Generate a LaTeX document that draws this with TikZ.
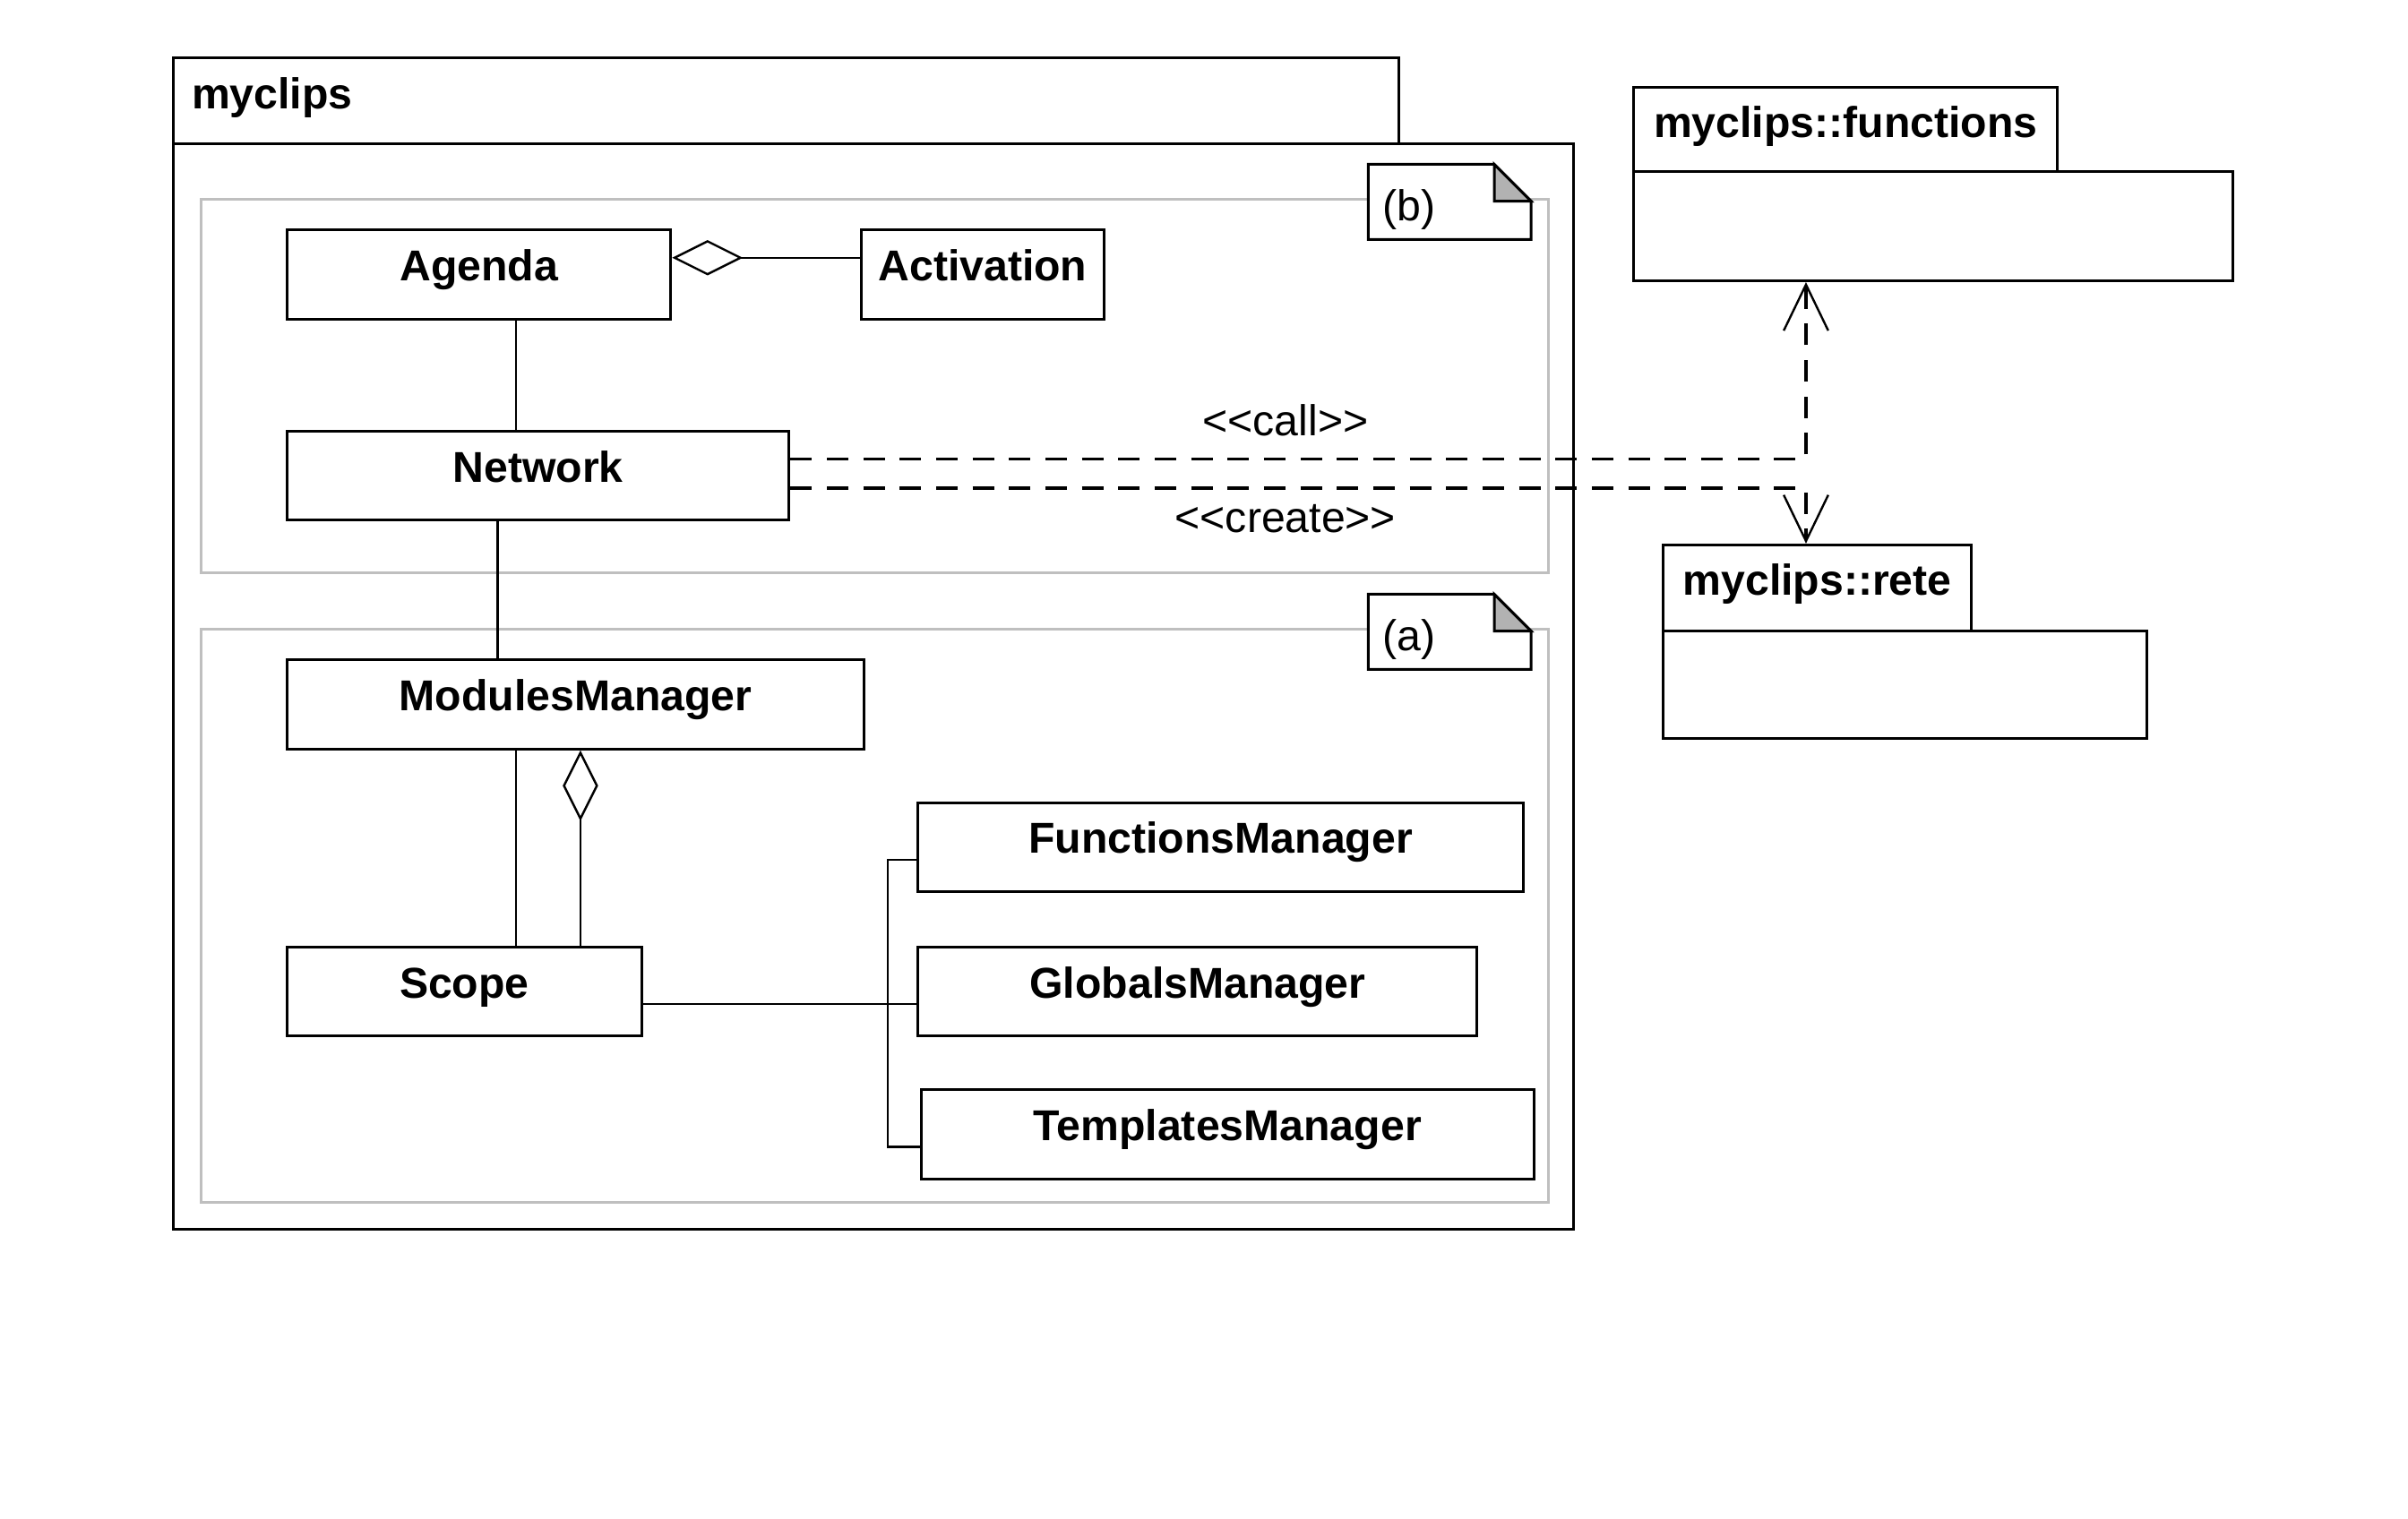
\documentclass[tikz,border=0pt]{standalone}
\usepackage{fontspec}
\setmainfont{Liberation Sans}
\usetikzlibrary{arrows.meta,calc}

\def\umlfont{\fontsize{16}{19}\selectfont}

\tikzset{
  classbox/.style={draw, line width=1pt, inner sep=0pt, anchor=north west,
    font=\umlfont\bfseries, text height=0.5cm, text depth=0.34cm,
    minimum height=1.16cm},
  pkgtab/.style={draw, line width=1pt, anchor=north west, align=left,
    inner ysep=0pt, font=\umlfont\bfseries, text height=0.5cm,
    text depth=0.3cm},
  pkgbody/.style={draw, line width=1pt, anchor=north west, inner sep=0pt},
  link/.style={line width=0.8pt},
  aggr/.style={link, {Diamond[open, length=0.92cm, width=0.46cm]}-},
  depend/.style={line width=1.1pt, dash pattern=on 8pt off 5.5pt,
    -{Straight Barb[length=0.6cm, width=0.58cm, line width=0.8pt]}},
  frame/.style={draw=black!25, line width=1pt},
  stereo/.style={font=\umlfont}
}

\begin{document}
\begin{tikzpicture}[x=0.02cm, y=-0.02cm]
    \useasboundingbox (0,0) rectangle (1568,989);

    % package myclips
    \node[pkgtab, text width=15.48cm, inner xsep=0.24cm, minimum height=1.12cm]
        (mytab) at (112,37) {myclips};
    \node[pkgbody, minimum width=18.24cm, minimum height=14.14cm]
        (mybody) at (112,93) {};

    \draw[frame] (131,130) rectangle (1008,373);
    \draw[frame] (131,410) rectangle (1008,783);

    \foreach \n/\x/\y/\lbl in {b/891/107/(b), a/891/387/(a)}{
        \draw[line width=1pt, fill=white] (\x,\y) -- ++(82,0) -- ++(24,24)
            -- ++(0,25) -- ++(-106,0) -- cycle;
        \fill[black!30] (\x+82,\y) -- ++(0,24) -- ++(24,0) -- cycle;
        \draw[line width=1pt] (\x+82,\y) -- ++(0,24) -- ++(24,0) -- cycle;
        \node[stereo, anchor=base west, inner sep=0pt] (note\n) at (\x+9,\y+37) {\lbl};
    }

    \node[classbox, minimum width=5cm] (agenda) at (186,149) {Agenda};
    \node[classbox, minimum width=3.16cm] (activation) at (560,149) {Activation};
    \node[classbox, minimum width=6.54cm] (network) at (186,280) {Network};
    \node[classbox, minimum width=7.52cm] (modmgr) at (186,429) {ModulesManager};
    \node[classbox, minimum width=4.62cm] (scope) at (186,616) {Scope};
    \node[classbox, minimum width=7.88cm] (funcmgr) at (597,522) {FunctionsManager};
    \node[classbox, minimum width=7.28cm] (globmgr) at (597,616) {GlobalsManager};
    \node[classbox, minimum width=7.98cm] (tplmgr) at (599,709) {TemplatesManager};

    \draw[aggr] ([yshift=0.22cm]agenda.east) -- ([yshift=0.22cm]activation.west);
    \draw[link] ([xshift=3cm]agenda.south west) -- ([xshift=3cm]network.north west);
    \draw[link] ([xshift=2.76cm]network.south west) -- ([xshift=2.76cm]modmgr.north west);
    \draw[link] ([xshift=3cm]modmgr.south west) -- ([xshift=3cm]scope.north west);
    \draw[aggr] ([xshift=3.84cm]modmgr.south west) -- ([xshift=3.84cm]scope.north west);
    \draw[link] ([yshift=-0.16cm]scope.east) -- ([yshift=-0.16cm]globmgr.west);
    \draw[link] ([yshift=-0.16cm]funcmgr.west) -- ++(-0.38cm,0)
        |- ([yshift=-0.16cm]tplmgr.west);

    % other packages
    \node[pkgtab, text width=5cm, inner xsep=0.26cm, minimum height=1.1cm]
        (fntab) at (1063,56) {myclips::functions};
    \node[pkgbody, minimum width=7.8cm, minimum height=1.42cm]
        (fnbody) at (1063,111) {};
    \node[pkgtab, text width=3.5cm, inner xsep=0.26cm, minimum height=1.12cm]
        (retetab) at (1082,354) {myclips::rete};
    \node[pkgbody, minimum width=6.3cm, minimum height=1.4cm]
        (retebody) at (1082,410) {};

    \draw[depend] ([yshift=0.22cm]network.east) -| ([xshift=2.26cm]fnbody.south west);
    \draw[depend] ([yshift=-0.16cm]network.east) -| ([xshift=1.88cm]retetab.north west);
    \node[stereo] (calllbl) at (837,274) {<{}<call>{}>};
    \node[stereo] (createlbl) at (837,338) {<{}<create>{}>};
\end{tikzpicture}
\end{document}
